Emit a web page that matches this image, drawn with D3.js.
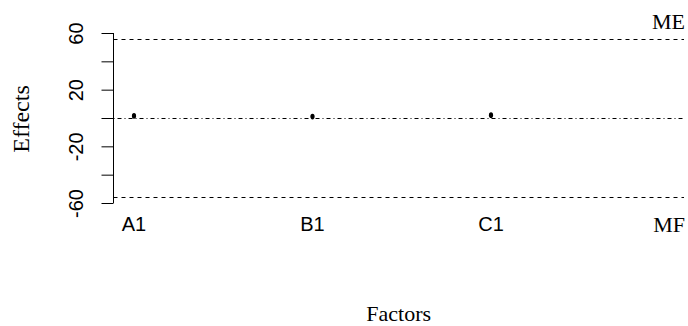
<!DOCTYPE html>
<html><head><meta charset="utf-8">
<script src="https://cdn.jsdelivr.net/npm/d3@7"></script>
<style>body{margin:0;background:#fff}svg{display:block}</style>
</head><body>
<svg id="c" width="688" height="326"></svg>
<script>
const factors = ["A1", "B1", "C1"];
const effects = [1.5, 1.0, 2.0];
const yTicks = [-60, -40, -20, 0, 20, 40, 60];
const yTickLabels = ["-60", "", "-20", "", "20", "", "60"];
const marginE = 56;   // ME
const marginF = -56;  // MF
const refLines = [
  {name: "ME", value: marginE, dash: "4,4"},
  {name: "zero", value: 0, dash: "1,3,4,3"},
  {name: "MF", value: marginF, dash: "4,4"}
];

const svg = d3.select("#c");
const sans = "Liberation Sans, Arial, sans-serif";
const serif = "Liberation Serif, Times New Roman, serif";
const plotL = 113.5, plotR = 684;
const y = d3.scaleLinear().domain([-60, 60]).range([203, 33]);
const x = d3.scaleLinear().domain([1, 3]).range([134, 491]);

// reference lines
svg.selectAll("line.ref").data(refLines).join("line")
  .attr("class", "ref")
  .attr("x1", plotL).attr("x2", plotR)
  .attr("y1", d => Math.round(y(d.value)) + 0.5)
  .attr("y2", d => Math.round(y(d.value)) + 0.5)
  .attr("stroke", "#000").attr("stroke-width", 1)
  .attr("stroke-dasharray", d => d.dash);

// y axis
const yAxis = d3.axisLeft(y).tickValues(yTicks).tickSize(12).tickFormat((d, i) => yTickLabels[i]);
const gy = svg.append("g").attr("transform", `translate(${plotL},0)`).call(yAxis);
gy.select(".domain").attr("d", `M-0,${y(60)}V${y(-60)}`).attr("stroke", "#000");
gy.selectAll(".tick line").attr("stroke", "#000");
gy.selectAll(".tick text")
  .attr("x", null).attr("dy", null)
  .attr("transform", "translate(-31,0) rotate(-90)")
  .attr("text-anchor", "middle")
  .attr("fill", "#000")
  .style("font-family", sans).style("font-size", "20px");

// x labels
svg.selectAll("text.xl").data(factors).join("text")
  .attr("class", "xl")
  .attr("x", (d, i) => x(i + 1)).attr("y", 231)
  .attr("text-anchor", "middle")
  .style("font-family", sans).style("font-size", "20px")
  .text(d => d);

// points
svg.selectAll("ellipse.pt").data(effects).join("ellipse")
  .attr("class", "pt")
  .attr("cx", (d, i) => x(i + 1)).attr("cy", d => y(d))
  .attr("rx", 2.1).attr("ry", 2.8).attr("fill", "#000");

// ME / MF labels
svg.append("text").attr("x", plotR + 1).attr("y", 29).attr("text-anchor", "end")
  .style("font-family", serif).style("font-size", "22px").text("ME");
svg.append("text").attr("x", plotR + 1).attr("y", 232).attr("text-anchor", "end")
  .style("font-family", serif).style("font-size", "22px").text("MF");

// axis titles
svg.append("text").attr("transform", `translate(29,119) rotate(-90)`).attr("text-anchor", "middle")
  .style("font-family", serif).style("font-size", "24px").text("Effects");
svg.append("text").attr("x", (plotL + plotR) / 2).attr("y", 321).attr("text-anchor", "middle")
  .style("font-family", serif).style("font-size", "22px").text("Factors");
</script>
</body></html>
